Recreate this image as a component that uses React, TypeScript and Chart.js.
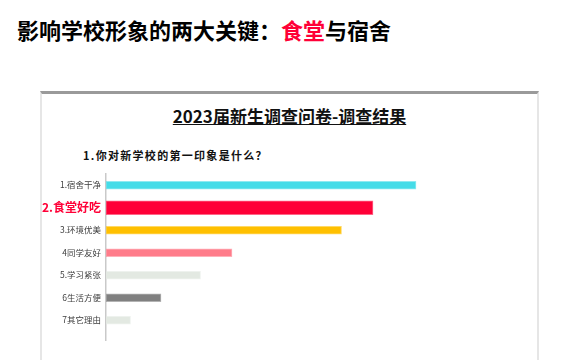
import React, { useEffect, useRef } from "react";
import { Chart, registerables } from "chart.js";

Chart.register(...registerables);

const FONT = "'Noto Sans CJK SC', 'Noto Sans', sans-serif";

const pageTitleA = "影响学校形象的两大关键：";
const pageTitleB = "食堂";
const pageTitleC = "与宿舍";
const cardTitle = "2023届新生调查问卷-调查结果";
const question = "1.你对新学校的第一印象是什么？";

const categories = ["1.宿舍干净", "2.食堂好吃", "3.环境优美", "4同学友好", "5.学习紧张", "6生活方便", "7其它理由"];
const values = [62, 53.4, 47.1, 25.2, 18.9, 11, 4.9];
const barColors = ["#45DCE8", "#FF0037", "#FFC000", "#FF7C8A", "#E3E9E2", "#808080", "#E3E9E2"];
const highlightIndex = 1;

export default function App() {
  const canvasRef = useRef<HTMLCanvasElement | null>(null);

  useEffect(() => {
    const canvas = canvasRef.current;
    if (!canvas) return;

    const normalData = categories
      .map((c, i) => ({ x: values[i], y: i }))
      .filter((d) => d.y !== highlightIndex);
    const highlightData = [{ x: values[highlightIndex], y: highlightIndex }];

    const colorOf = (ctx: any) => {
      const raw = ctx.raw as { y: number } | undefined;
      return raw ? barColors[raw.y] : "#ccc";
    };

    const chart = new Chart(canvas, {
      type: "bar",
      data: {
        datasets: [
          {
            label: "normal",
            data: normalData as any,
            backgroundColor: colorOf,
            borderColor: (ctx: any) => colorOf(ctx) + "99",
            borderWidth: 1,
            borderSkipped: false,
            barThickness: 8,
            grouped: false,
          } as any,
          {
            label: "highlight",
            data: highlightData as any,
            backgroundColor: colorOf,
            borderColor: (ctx: any) => colorOf(ctx) + "99",
            borderWidth: 1,
            borderSkipped: false,
            barThickness: 14,
            grouped: false,
          } as any,
        ],
      },
      options: {
        indexAxis: "y",
        animation: false,
        responsive: true,
        maintainAspectRatio: false,
        layout: { padding: { top: 10, bottom: 19.5, left: 0, right: 30 } },
        plugins: {
          legend: { display: false },
          tooltip: { enabled: false },
          title: { display: false },
        },
        scales: {
          x: {
            type: "linear",
            display: false,
            min: 0,
            max: 80,
          },
          y: {
            type: "linear",
            reverse: true,
            offset: false,
            min: -0.5,
            max: 6.9,
            grid: { display: false, drawTicks: false, offset: false },
            border: { display: true, color: "#c9c9c9", width: 1.5 },
            afterBuildTicks: (scale: any) => {
              scale.ticks = categories.map((_, i) => ({ value: i }));
            },
            afterFit: (scale: any) => {
              scale.width = 64;
              scale.paddingTop = 0;
              scale.paddingBottom = 0;
            },
            ticks: {
              padding: 5,
              autoSkip: false,
              callback: (v: any) => categories[v as number] ?? "",
              color: (ctx: any) => (ctx.tick && ctx.tick.value === highlightIndex ? "#FF0037" : "#404040"),
              font: (ctx: any) =>
                ctx.tick && ctx.tick.value === highlightIndex
                  ? { family: FONT, size: 12, weight: "bold" }
                  : { family: FONT, size: 8.5 },
            },
          } as any,
        },
      },
    });

    return () => chart.destroy();
  }, []);

  return (
    <div
      style={{
        position: "fixed",
        left: 0,
        top: 0,
        width: 570,
        height: 360,
        overflow: "hidden",
        background: "#fff",
        fontFamily: FONT,
      }}
    >
      <div
        style={{
          position: "absolute",
          left: 17,
          top: 18,
          fontSize: 22,
          lineHeight: "22px",
          fontWeight: 700,
          color: "#000",
          whiteSpace: "nowrap",
        }}
      >
        {pageTitleA}
        <span style={{ color: "#FF0037" }}>{pageTitleB}</span>
        {pageTitleC}
      </div>

      <div
        style={{
          position: "absolute",
          left: 40,
          top: 91,
          width: 499,
          height: 320,
          boxSizing: "border-box",
          borderTop: "3px solid #9a9a9a",
          borderLeft: "2px solid #e6e6e6",
          borderRight: "2px solid #e6e6e6",
          background: "#fff",
        }}
      />

      <div
        style={{
          position: "absolute",
          left: 42,
          width: 495,
          top: 106,
          textAlign: "center",
          fontSize: 17,
          lineHeight: "20px",
          fontWeight: 700,
          color: "#111",
          textDecoration: "underline",
          whiteSpace: "nowrap",
        }}
      >
        {cardTitle}
      </div>

      <div
        style={{
          position: "absolute",
          left: 83,
          top: 148,
          fontSize: 11,
          lineHeight: "14px",
          fontWeight: 700,
          letterSpacing: "1.3px",
          color: "#111",
          whiteSpace: "nowrap",
        }}
      >
        {question}
      </div>

      <div style={{ position: "absolute", left: 42, top: 164, width: 494, height: 196 }}>
        <canvas ref={canvasRef} />
      </div>
    </div>
  );
}
